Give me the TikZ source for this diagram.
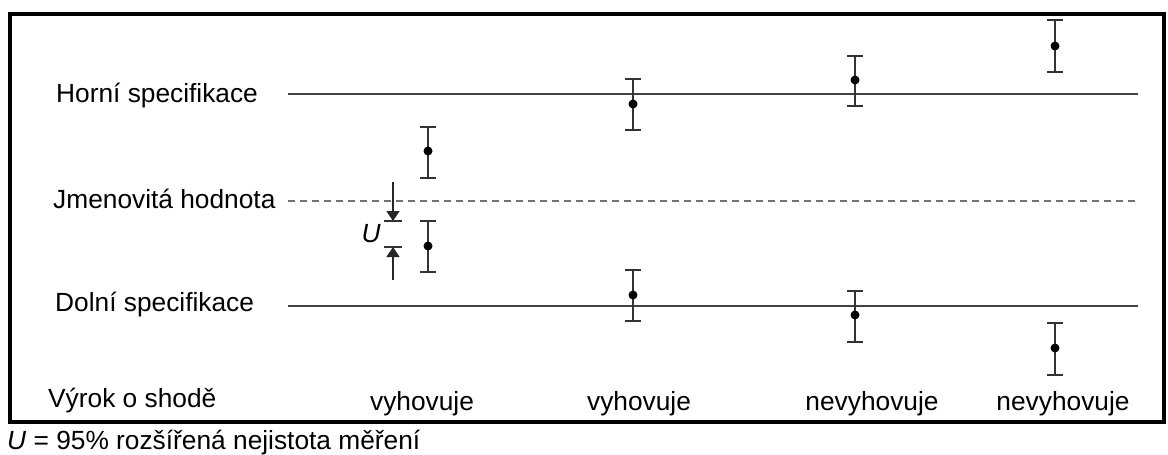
\documentclass[tikz,border=0pt]{standalone}
\usepackage{fontspec}
\setmainfont{Liberation Sans}
\usetikzlibrary{arrows.meta}
\begin{document}
\begin{tikzpicture}[x=1pt,y=-1pt,
  lbl/.style={inner sep=0pt, font=\fontsize{26.3}{30}\selectfont},
  specline/.style={line width=1.6pt, draw=black!75},
  nomline/.style={line width=1.4pt, draw=black!55, dash pattern=on 7pt off 5pt},
  ebar/.style={line width=1.6pt, draw=black!80},
  meas/.style={circle, fill=black, inner sep=0pt, minimum size=9pt},
  uarrow/.style={line width=1.6pt, draw=black!85, -{Triangle[length=10pt,width=13pt]}},
]
\useasboundingbox (0,0) rectangle (1168,455);

% frame
\draw[line width=4pt] (10,14) rectangle (1164,422);

% specification limits and nominal value
\node[lbl, anchor=base west] (hs) at (56,102) {Horní specifikace};
\node[lbl, anchor=base west] (jh) at (53,208) {Jmenovitá hodnota};
\node[lbl, anchor=base west] (ds) at (55,311) {Dolní specifikace};

\coordinate (hsL) at (288,94);  \coordinate (hsR) at (1138,94);
\coordinate (jhL) at (288,201); \coordinate (jhR) at (1138,201);
\coordinate (dsL) at (288,306); \coordinate (dsR) at (1138,306);
\draw[specline] (hsL) -- (hsR);
\draw[nomline] (jhL) -- (jhR);
\draw[specline] (dsL) -- (dsR);

% measured values with uncertainty bars
\foreach \n/\x/\t/\d/\b in {a/428/127/151/178, b/428/221/246/272,
                            c/633/79/104/130,  d/633/270/295/321,
                            e/855/56/80/106,   f/855/291/315/342,
                            g/1055/20/46/72,   h/1055/323/348/375}{
  \coordinate (t\n) at (\x,\t);
  \coordinate (b\n) at (\x,\b);
  \draw[ebar] (t\n) -- (b\n);
  \draw[ebar] ([xshift=-8pt]t\n) -- ([xshift=8pt]t\n);
  \draw[ebar] ([xshift=-8pt]b\n) -- ([xshift=8pt]b\n);
  \node[meas] (m\n) at (\x,\d) {};
}

% expanded uncertainty marker
\coordinate (uTop) at (393,182);
\coordinate (uTipA) at (393,221);
\coordinate (uTipB) at (393,247);
\coordinate (uBot) at (393,280);
\draw[ebar] ([xshift=-9pt]uTipA) -- ([xshift=9pt]uTipA);
\draw[ebar] ([xshift=-9pt]uTipB) -- ([xshift=9pt]uTipB);
\draw[uarrow] (uTop) -- (uTipA);
\draw[uarrow] (uBot) -- (uTipB);
\node[lbl, font=\fontsize{26.3}{30}\selectfont\itshape] (ulab) at (371,234) {U};

% conformity statements
\node[lbl, anchor=base west] (vy) at (48,407) {Výrok o shodě};
\node[lbl, anchor=base] (s1) at (422,410) {vyhovuje};
\node[lbl, anchor=base] (s2) at (639,410) {vyhovuje};
\node[lbl, anchor=base] (s3) at (872,410) {nevyhovuje};
\node[lbl, anchor=base] (s4) at (1063,410) {nevyhovuje};

% footnote
\node[lbl, anchor=base west] (note) at (7,449) {\textit{U} = 95\% rozšířená nejistota měření};
\end{tikzpicture}
\end{document}
